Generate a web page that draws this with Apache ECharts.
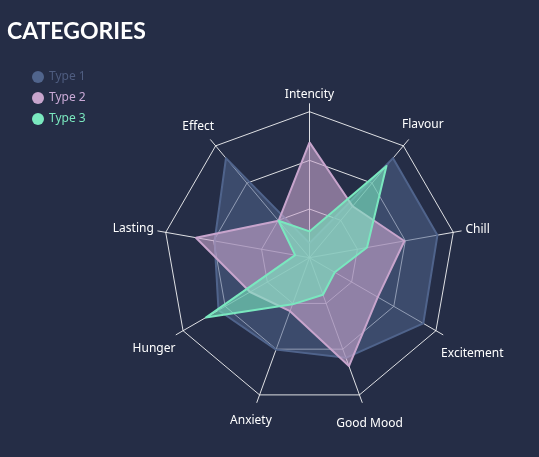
<!DOCTYPE html>
<html>
<head>
<meta charset="utf-8">
<style>
html, body { margin: 0; padding: 0; background: #252d46; }
#main { width: 539px; height: 457px; }
</style>
<script src="https://cdn.jsdelivr.net/npm/echarts@6/dist/echarts.min.js"></script>
</head>
<body>
<div id="main"></div>
<script>
// indicators, read clockwise from the top
const categories = ["Intencity", "Flavour", "Chill", "Excitement", "Good Mood", "Anxiety", "Hunger", "Lasting", "Effect"];
const seriesNames = ["Type 1", "Type 2", "Type 3"];
const type1 = [10, 89, 89, 90, 73, 67, 72, 66, 89];
const type2 = [79, 46, 66, 54, 79, 39, 47, 79, 33];
const type3 = [18, 82, 40, 20, 27, 34, 82, 10, 33];
const maxValue = 100;

const colors = ["#50648c", "#c8a5cd", "#7ae8bf"];
const legendText = ["#4f5d80", "#c9a9d6", "#7ae8bf"];
const labelFont = '12px "Noto Sans"';

// echarts places indicators counter-clockwise, the picture goes clockwise
function clockwise(arr) {
  return [arr[0]].concat(arr.slice(1).reverse());
}

const indicator = clockwise(categories).map(function (name) {
  return { name: name, max: maxValue, min: 0 };
});

const center = [309.5, 257.7];
const radius = 146;

// names sit centred on their axis, just clear of the axis end
const measureCtx = document.createElement("canvas").getContext("2d");
measureCtx.font = labelFont;
const nameLabels = categories.map(function (name, k) {
  const a = (90 - k * 360 / categories.length) * Math.PI / 180;
  const hw = measureCtx.measureText(name).width / 2;
  const hh = 7;
  const d = radius + 11.5 + Math.abs(Math.cos(a)) * hw + Math.abs(Math.sin(a)) * hh;
  return {
    type: "text",
    x: center[0] + d * Math.cos(a),
    y: center[1] - d * Math.sin(a) + 1.5,
    silent: true,
    style: {
      text: name,
      fill: "#fff",
      font: labelFont,
      textAlign: "center",
      textVerticalAlign: "middle",
      align: "center",
      verticalAlign: "middle"
    }
  };
});

const options = {
  backgroundColor: "#252d46",
  title: {
    text: "CATEGORIES",
    left: 7,
    top: 20,
    padding: 0,
    textStyle: { color: "#fff", fontSize: 23, fontWeight: "bold", fontFamily: "Lato" }
  },
  legend: {
    orient: "vertical",
    left: 27,
    top: 66,
    itemWidth: 12,
    itemHeight: 12,
    itemGap: 9,
    icon: "circle",
    textStyle: { fontSize: 12, fontFamily: "Noto Sans" },
    data: seriesNames.map(function (n, i) {
      return { name: n, textStyle: { color: legendText[i] } };
    })
  },
  graphic: nameLabels,
  radar: [
    {
      center: center,
      radius: radius + 8,
      startAngle: 90,
      shape: "polygon",
      splitNumber: 1,
      indicator: indicator,
      axisName: { show: false },
      axisLine: { lineStyle: { color: "rgba(255,255,255,0.85)", width: 1 } },
      splitLine: { show: false },
      splitArea: { show: false }
    },
    {
      center: center,
      radius: radius,
      startAngle: 90,
      shape: "polygon",
      splitNumber: 3,
      indicator: indicator,
      axisName: { show: false },
      axisLine: { show: false },
      splitLine: { lineStyle: { color: "rgba(255,255,255,0.85)", width: 1 } },
      splitArea: { show: false }
    }
  ],
  series: [type1, type2, type3].map(function (vals, i) {
    return {
      name: seriesNames[i],
      type: "radar",
      radarIndex: 1,
      symbol: "none",
      lineStyle: { color: colors[i], width: 2 },
      itemStyle: { color: colors[i] },
      areaStyle: { color: colors[i], opacity: i === 0 ? 0.55 : 0.6 },
      data: [{ name: seriesNames[i], value: clockwise(vals) }]
    };
  })
};

var myChart = echarts.init(document.getElementById("main"));
myChart.setOption(options);
window.onresize = function () {
  myChart.resize();
};
</script>
</body>
</html>
